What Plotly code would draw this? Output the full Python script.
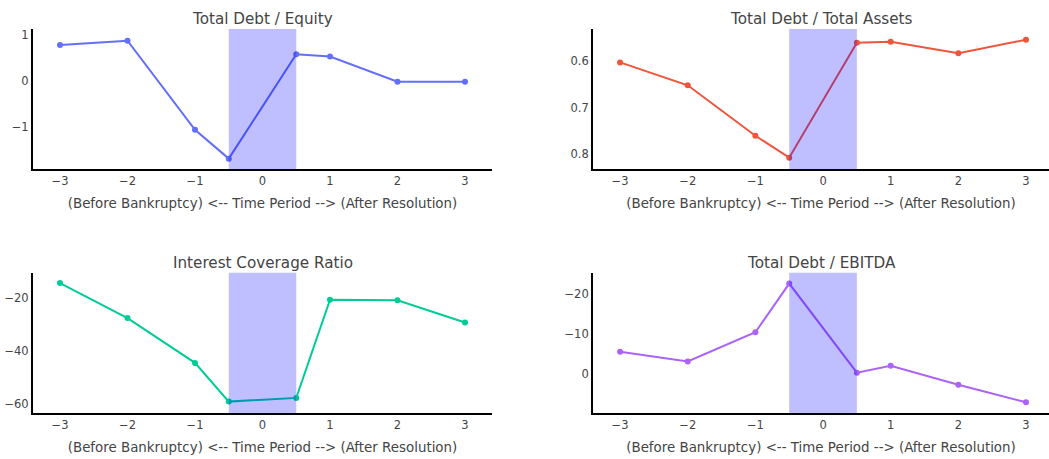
import plotly.graph_objects as go
from plotly.subplots import make_subplots

periods = [-3, -2, -1, -0.5, 0.5, 1, 2, 3]
debt_equity = [0.78, 0.875, -1.07, -1.70, 0.58, 0.53, -0.02, -0.02]
debt_assets = [0.603, 0.652, 0.760, 0.807, 0.561, 0.559, 0.5835, 0.5545]
interest_cov = [-14.3, -27.5, -44.4, -59.0, -57.6, -20.6, -20.8, -29.2]
debt_ebitda = [-5.5, -3.1, -10.45, -22.7, -0.25, -2.0, 2.8, 7.2]

titles = ["Total Debt / Equity", "Total Debt / Total Assets",
          "Interest Coverage Ratio", "Total Debt / EBITDA"]
colors = ["#636efa", "#EF553B", "#00cc96", "#ab63fa"]
series = [debt_equity, debt_assets, interest_cov, debt_ebitda]
yranges = [[-1.93, 1.13], [0.8315, 0.5315], [-63.3, -10.45], [9.9, -25.4]]
xlabel = "(Before Bankruptcy) <-- Time Period --> (After Resolution)"

FONT = "DejaVu Sans"

fig = make_subplots(rows=2, cols=2, subplot_titles=titles,
                    horizontal_spacing=0.1, vertical_spacing=0.27)

for i, (vals, col) in enumerate(zip(series, colors)):
    r, c = i // 2 + 1, i % 2 + 1
    fig.add_trace(go.Scatter(x=periods, y=vals, mode="lines+markers",
                             line=dict(color=col, width=2),
                             marker=dict(color=col, size=6),
                             showlegend=False), row=r, col=c)
    fig.add_vrect(x0=-0.5, x1=0.5, fillcolor="blue", opacity=0.25,
                  line_width=0, row=r, col=c)
    fig.update_xaxes(title_text=xlabel, row=r, col=c,
                     range=[-3.4, 3.4] if c == 1 else [-3.4, 3.34])
    fig.update_yaxes(range=yranges[i], autorange=False, row=r, col=c)

fig.update_xaxes(showgrid=False, showline=True, linewidth=2, linecolor="black",
                 zeroline=False, tickvals=[-3, -2, -1, 0, 1, 2, 3],
                 automargin=False, title_standoff=12,
                 tickfont=dict(family=FONT, size=11.5, color="#444"),
                 title_font=dict(family=FONT, size=13.4, color="#444"))
fig.update_yaxes(showgrid=False, showline=True, linewidth=2, linecolor="black",
                 zeroline=False, automargin=False,
                 tickfont=dict(family=FONT, size=11.5, color="#444"))

fig.update_layout(
    template="plotly",
    width=1049, height=459,
    font=dict(family=FONT, color="#444"),
    plot_bgcolor="white", paper_bgcolor="white",
    margin=dict(l=33, r=0, t=29, b=46),
)
fig.layout.xaxis.domain = [0, 0.4518]
fig.layout.xaxis3.domain = [0, 0.4518]
fig.layout.xaxis2.domain = [0.5512, 1]
fig.layout.xaxis4.domain = [0.5512, 1]
fig.layout.yaxis.domain = [0.635, 1]
fig.layout.yaxis2.domain = [0.635, 1]
fig.layout.yaxis3.domain = [0, 0.365]
fig.layout.yaxis4.domain = [0, 0.365]
for ann, xc, yt in zip(fig.layout.annotations,
                       [0.2259, 0.7756, 0.2259, 0.7756], [1, 1, 0.365, 0.365]):
    ann.x = xc
    ann.y = yt
    ann.yshift = -1.5
    ann.font = dict(family=FONT, size=15.2, color="#444")

fig.write_html("out.html",
               config={"displayModeBar": False},
               post_script="document.body.style.margin='0';"
                           "document.body.style.overflow='hidden';")
